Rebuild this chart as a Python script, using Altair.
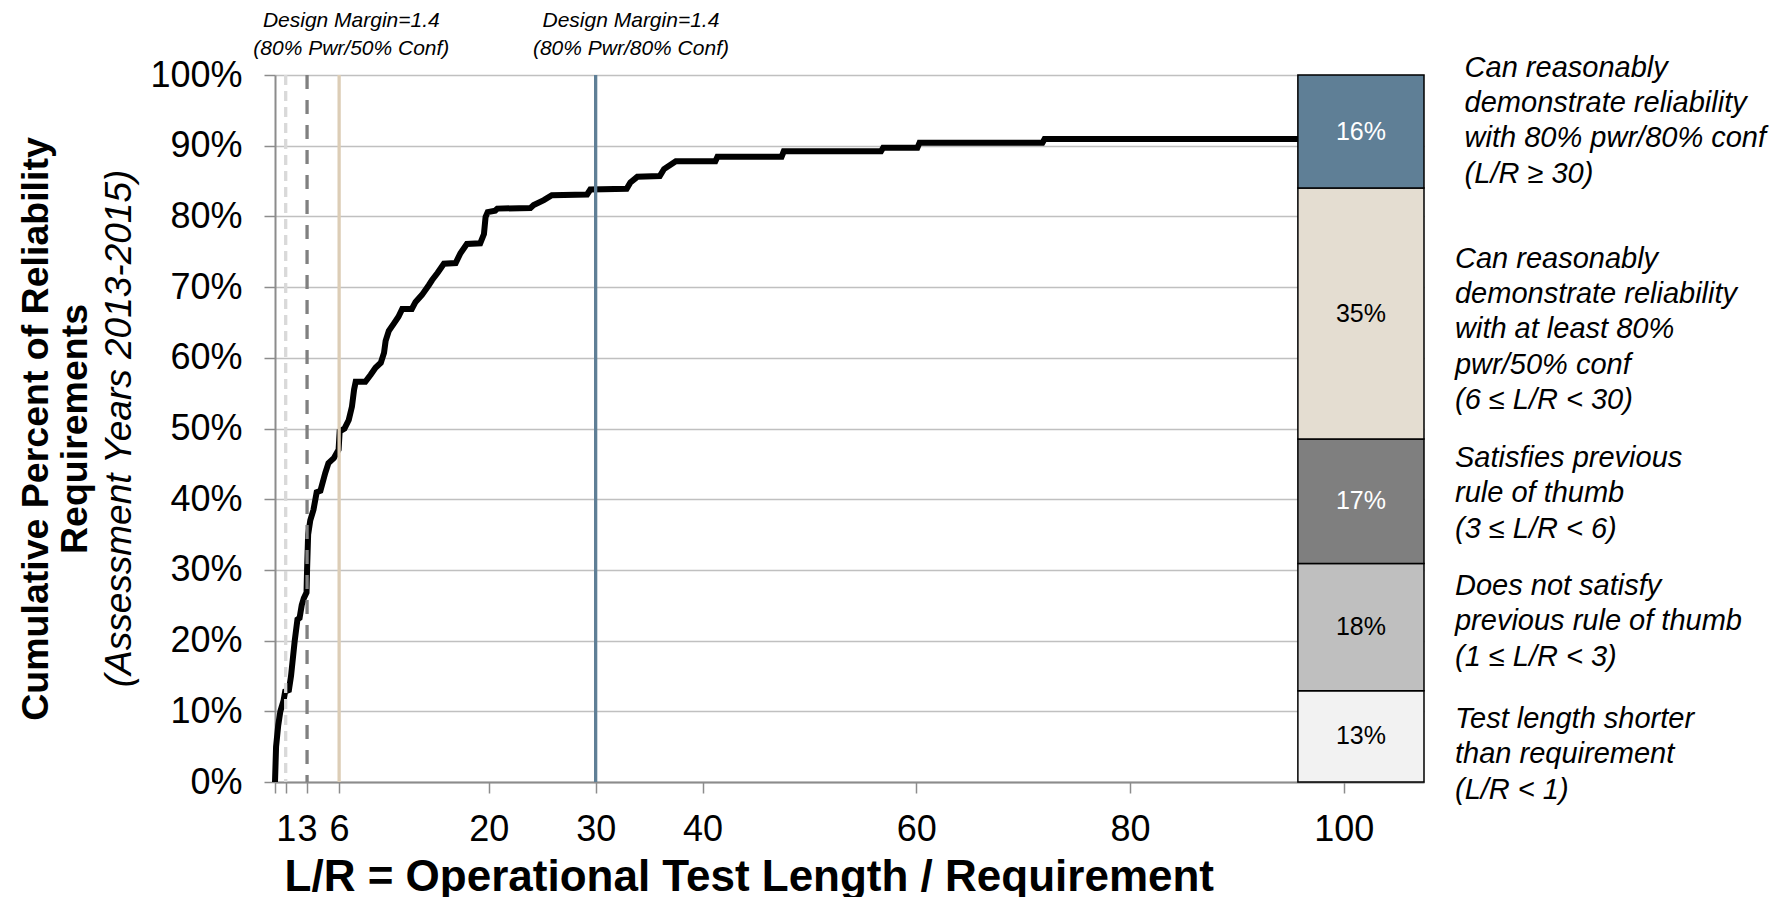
import altair as alt
import pandas as pd

FONT = "Liberation Sans, Arial, Helvetica, sans-serif"

# --- cumulative curve (vertices) ---
lr_x = [0.0, 0.1, 0.3, 0.5, 0.8, 0.95, 1.3, 1.5, 1.84, 2.1, 2.3, 2.5, 2.7, 2.95,
        3.0, 3.1, 3.3, 3.6, 3.9, 4.25, 4.7, 5.0, 5.5, 5.95, 6.05, 6.5, 6.9, 7.2,
        7.4, 7.55, 8.45, 8.95, 9.4, 9.9, 10.2, 10.35, 10.65, 11.1, 11.55, 11.9,
        12.8, 13.15, 13.75, 14.4, 14.7, 15.2, 15.8, 16.9, 17.35, 17.95, 19.2,
        19.55, 19.7, 19.9, 20.6, 20.8, 23.9, 24.2, 25.15, 25.9, 29.2, 29.5, 32.9,
        33.25, 33.9, 36.0, 36.4, 37.5, 41.2, 41.4, 47.4, 47.6, 56.7, 56.9, 60.1,
        60.3, 71.8, 72.0, 96.0]
cum_pct = [0.0, 5.0, 8.0, 10.0, 11.5, 12.8, 13.0, 15.0, 19.9, 23.0, 23.2, 25.0, 26.0, 26.8,
           30.0, 35.0, 37.0, 38.5, 41.0, 41.2, 43.7, 45.1, 45.8, 47.0, 49.6, 50.0, 51.2, 53.1,
           55.5, 56.6, 56.6, 57.6, 58.6, 59.3, 60.7, 62.4, 63.8, 64.8, 65.8, 66.9,
           66.9, 67.9, 68.9, 70.3, 71.0, 72.0, 73.3, 73.4, 74.8, 76.1, 76.2,
           77.5, 79.9, 80.6, 80.8, 81.1, 81.2, 81.6, 82.3, 83.0, 83.1, 83.8, 83.9,
           84.8, 85.6, 85.7, 86.7, 87.8, 87.8, 88.45, 88.45, 89.2, 89.2, 89.7, 89.7,
           90.4, 90.4, 90.95, 90.95]

# --- reference lines ---
ref_x = [1, 3, 6, 30]
ref_color = ["#d9d9d9", "#808080", "#dccdb6", "#5f7f96"]
ref_dash = [[10, 6], [14, 11], None, None]

# --- stacked bar ---
seg_labels = ["13%", "18%", "17%", "35%", "16%"]
seg_share = [12.9, 18.0, 17.6, 35.5, 16.0]
seg_fill = ["#f2f2f2", "#bfbfbf", "#7f7f7f", "#e4ddd1", "#5f7f96"]
seg_text_color = ["#000000", "#000000", "#ffffff", "#000000", "#ffffff"]
bar_x0, bar_x1 = 95.7, 107.5

# --- axes ---
x_ticks = [0, 1, 3, 6, 20, 30, 40, 60, 80, 100]
y_ticks = list(range(0, 101, 10))

# --- side annotations ---
side_text = [
    "Can reasonably\ndemonstrate reliability\nwith 80% pwr/80% conf\n(L/R ≥ 30)",
    "Can reasonably\ndemonstrate reliability\nwith at least 80%\npwr/50% conf\n(6 ≤ L/R < 30)",
    "Satisfies previous\nrule of thumb\n(3 ≤ L/R < 6)",
    "Does not satisfy\nprevious rule of thumb\n(1 ≤ L/R < 3)",
    "Test length shorter\nthan requirement\n(L/R < 1)",
]
side_top = [103.0, 76.0, 47.8, 29.7, 10.9]
side_x = [111.3, 110.4, 110.4, 110.4, 110.4]

note_text = ["Design Margin=1.4\n(80% Pwr/50% Conf)", "Design Margin=1.4\n(80% Pwr/80% Conf)"]
note_x = [7.14, 33.3]
note_top = [109.15, 109.15]

y_title_bold = ["Cumulative Percent of Reliability", "Requirements"]
y_title_italic = "(Assessment Years 2013-2015)"
x_title = "L/R = Operational Test Length / Requirement"

xs = alt.Scale(domain=[0, 107.5], nice=False, zero=False)
ys = alt.Scale(domain=[0, 100], nice=False, zero=False)
AX = "#8c8c8c"

curve_df = pd.DataFrame({"lr": lr_x, "pct": cum_pct})
curve = alt.Chart(curve_df).mark_line(color="black", strokeWidth=6).encode(
    x=alt.X("lr:Q", scale=xs, axis=alt.Axis(
        values=x_ticks, labelExpr="datum.value == 0 ? '' : datum.label",
        labelOverlap=False, labelFlush=False, grid=False, tickSize=11,
        tickColor=AX, tickWidth=1.5, domainColor=AX, domainWidth=2,
        labelFontSize=36, labelPadding=19, labelColor="black", labelFont=FONT,
        title=x_title, titleFontSize=44, titleFont=FONT, titleFontWeight="bold",
        titleX=473.8, titleY=108.7, titleBaseline="alphabetic", titleAlign="center",
        titleColor="black")),
    y=alt.Y("pct:Q", scale=ys, axis=alt.Axis(
        values=y_ticks, labelExpr="datum.value + '%'", grid=True,
        gridColor="#c0c0c0", gridWidth=1.5, tickSize=11, tickColor=AX,
        tickWidth=1.5, domainColor=AX, domainWidth=2, labelFontSize=36,
        labelPadding=22, labelColor="black", labelFont=FONT,
        title=y_title_bold, titleFontSize=37.5, titleFont=FONT,
        titleFontWeight="bold", titleAngle=270, titleAlign="center",
        titleBaseline="alphabetic", titleX=-228, titleY=353.5,
        titleLineHeight=39.5, titleColor="black")),
)

rules = []
for xv, col, dash in zip(ref_x, ref_color, ref_dash):
    kw = dict(color=col, strokeWidth=3.3)
    if dash:
        kw["strokeDash"] = dash
    rules.append(alt.Chart(pd.DataFrame({"lr": [xv]})).mark_rule(**kw).encode(
        x=alt.X("lr:Q", scale=xs)))

tops = []
acc = 0.0
for s in seg_share:
    acc += s
    tops.append(acc)
bar_df = pd.DataFrame({
    "label": seg_labels,
    "pct": [t - s for t, s in zip(tops, seg_share)],
    "pct_end": tops,
    "fill": seg_fill,
    "tc": seg_text_color,
})
bar_df["pct_mid"] = (bar_df["pct"] + bar_df["pct_end"]) / 2
bar_df["lr"] = bar_x0
bar_df["lr_end"] = bar_x1
bar_df["lr_mid"] = (bar_x0 + bar_x1) / 2

bar = alt.Chart(bar_df).mark_rect(stroke="black", strokeWidth=1.5).encode(
    x=alt.X("lr:Q", scale=xs), x2="lr_end",
    y=alt.Y("pct:Q", scale=ys), y2="pct_end",
    fill=alt.Fill("fill:N", scale=None),
)
bar_text = alt.Chart(bar_df).mark_text(fontSize=25, font=FONT, baseline="middle").encode(
    x=alt.X("lr_mid:Q", scale=xs),
    y=alt.Y("pct_mid:Q", scale=ys),
    text="label:N",
    color=alt.Color("tc:N", scale=None),
)

side_df = pd.DataFrame({"t": side_text, "lr": side_x, "pct": side_top})
side = alt.Chart(side_df).mark_text(
    align="left", baseline="top", fontSize=29, fontStyle="italic", font=FONT,
    lineBreak="\n", lineHeight=35.3, color="black").encode(
    x=alt.X("lr:Q", scale=xs), y=alt.Y("pct:Q", scale=ys),
    text="t:N")

note_df = pd.DataFrame({"t": note_text, "lr": note_x, "pct": note_top})
notes = alt.Chart(note_df).mark_text(
    align="center", baseline="top", fontSize=21, fontStyle="italic", font=FONT,
    lineBreak="\n", lineHeight=27.3, color="black").encode(
    x=alt.X("lr:Q", scale=xs), y=alt.Y("pct:Q", scale=ys),
    text="t:N")

ital = alt.Chart(pd.DataFrame({"t": [y_title_italic]})).mark_text(
    angle=270, align="center", baseline="alphabetic", fontSize=37,
    fontStyle="italic", font=FONT, color="black").encode(
    x=alt.value(-143.7), y=alt.value(353.5), text="t:N")

chart = alt.layer(curve, *rules, bar, bar_text, side, notes, ital).properties(
    width=1149, height=707,
    autosize=alt.AutoSizeParams(type="none"),
    padding={"left": 267, "top": 67, "right": 353, "bottom": 120},
).configure_view(stroke=None)

chart.save("out.html", embed_options={"renderer": "svg", "actions": False})
